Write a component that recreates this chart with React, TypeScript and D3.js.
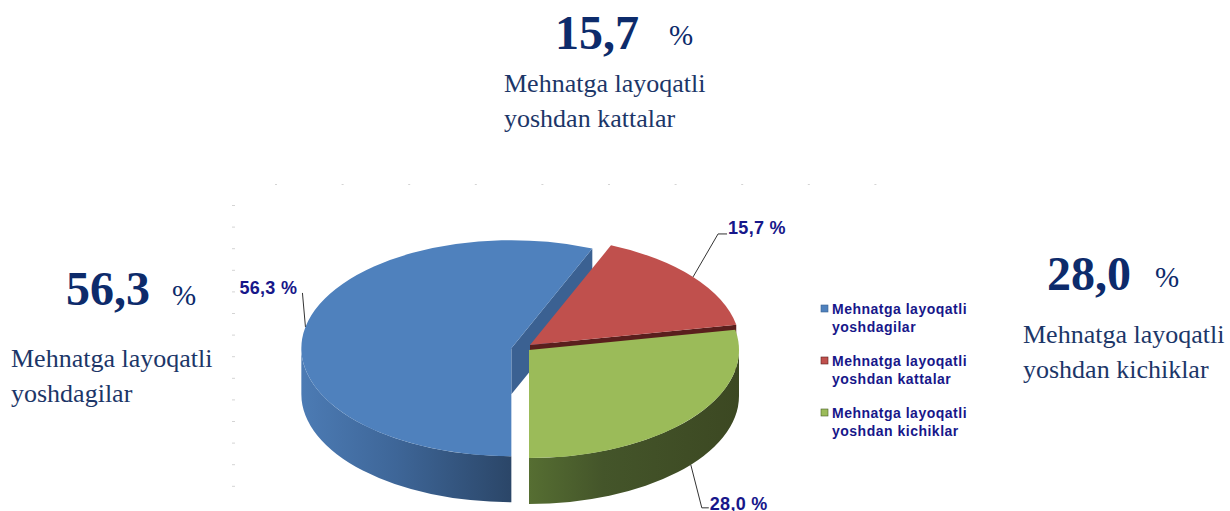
import * as d3 from "d3";

const categories = [
  "Mehnatga layoqatli yoshdagilar",
  "Mehnatga layoqatli yoshdan kattalar",
  "Mehnatga layoqatli yoshdan kichiklar",
];
const values = [56.3, 15.7, 28.0];
const sliceLabels = ["56,3 %", "15,7 %", "28,0 %"];
const bigNumbers = ["56,3", "15,7", "28,0"];
const legendLines = [
  ["Mehnatga layoqatli", "yoshdagilar"],
  ["Mehnatga layoqatli", "yoshdan kattalar"],
  ["Mehnatga layoqatli", "yoshdan kichiklar"],
];

const W = 1230;
const H = 511;
const topColors = ["#4f81bd", "#c0504d", "#9bbb59"];
const cutColors = ["#3b6192", "#5a1f1d", "#4a5e2a"];
const navy = "#0d2b6b";
const labelColor = "#17178a";

// pie geometry
const cx0 = 529;
const cy0 = 350;
const rx = 210;
const ry = 108;
const depth = 46;

type Pt = [number, number];

const pt = (c: Pt, a: number): Pt => [c[0] + rx * Math.sin(a), c[1] - ry * Math.cos(a)];
const down = (p: Pt): Pt => [p[0], p[1] + depth];
const f = (p: Pt) => `${p[0].toFixed(2)},${p[1].toFixed(2)}`;

// big annotation blocks placed around the pie (order follows categories)
const annot = [
  { x: 66, y: 305, px: 172, py: 305, tx: 11, ty: 367 },
  { x: 555, y: 49, px: 669, py: 45, tx: 504, ty: 92 },
  { x: 1047, y: 290, px: 1155, py: 287, tx: 1023, ty: 343 },
];

const App = () => {
  const pie = d3
    .pie<number>()
    .sort(null)
    .startAngle(Math.PI)
    .endAngle(3 * Math.PI);
  const arcs = pie(values);

  // slice offsets: blue pulled out radially, red nudged up
  const centers: Pt[] = arcs.map((a, i) => {
    const mid = (a.startAngle + a.endAngle) / 2;
    if (i === 0) {
      const e = 18;
      return [cx0 + e * Math.sin(mid), cy0 - e * Math.cos(mid) * (ry / rx)];
    }
    if (i === 1) return [cx0 + 1, cy0 - 5];
    return [cx0, cy0];
  });

  const slices = arcs.map((a, i) => {
    const c = centers[i];
    const a0 = a.startAngle;
    const a1 = a.endAngle;
    const p0 = pt(c, a0);
    const p1 = pt(c, a1);
    const large = a1 - a0 > Math.PI ? 1 : 0;
    const top = `M${f(c)}L${f(p0)}A${rx},${ry} 0 ${large} 1 ${f(p1)}Z`;

    // outer wall: parts of the rim in the front half
    const walls: string[] = [];
    [
      [Math.PI / 2, (3 * Math.PI) / 2],
      [(5 * Math.PI) / 2, (7 * Math.PI) / 2],
    ].forEach(([s, e]) => {
      const b0 = Math.max(a0, s);
      const b1 = Math.min(a1, e);
      if (b1 > b0) {
        const q0 = pt(c, b0);
        const q1 = pt(c, b1);
        walls.push(
          `M${f(q0)}A${rx},${ry} 0 0 1 ${f(q1)}L${f(down(q1))}A${rx},${ry} 0 0 0 ${f(down(q0))}Z`
        );
      }
    });

    // cut faces facing the viewer
    const cuts: string[] = [];
    if (Math.sin(a0) < -1e-6)
      cuts.push(`M${f(c)}L${f(p0)}L${f(down(p0))}L${f(down(c))}Z`);
    if (Math.sin(a1) > 1e-6)
      cuts.push(`M${f(c)}L${f(p1)}L${f(down(p1))}L${f(down(c))}Z`);

    const mid = (a0 + a1) / 2;
    const rim = pt(c, mid);
    const anchor: Pt = Math.cos(mid) < 0 ? down(rim) : rim;
    return { top, walls, cuts, anchor, c };
  });

  // leader lines and label placement
  const leaders = [
    {
      d: `M${f(slices[0].anchor)}L${f([slices[0].anchor[0] - 3, slices[0].anchor[1] - 34])}`,
      lx: slices[0].anchor[0] - 66,
      ly: slices[0].anchor[1] - 38,
    },
    {
      d: `M${f(slices[1].anchor)}L${f([slices[1].anchor[0] + 25, slices[1].anchor[1] - 43])}l9,0`,
      lx: slices[1].anchor[0] + 35,
      ly: slices[1].anchor[1] - 48,
    },
    {
      d: `M${f(slices[2].anchor)}L${f([slices[2].anchor[0] + 11, slices[2].anchor[1] + 43])}l7,0`,
      lx: slices[2].anchor[0] + 19,
      ly: slices[2].anchor[1] + 40,
    },
  ];

  const rowDots = d3.range(10).map((i) => 276 + i * 66.6);
  const colDots = d3.range(14).map((i) => 205 + i * 21.6);

  return (
    <svg
      width={W}
      height={H}
      style={{ position: "absolute", left: 0, top: 0, background: "#fff" }}
    >
      <defs>
        <linearGradient
          id="wall0"
          gradientUnits="userSpaceOnUse"
          x1={centers[0][0] - rx}
          x2={centers[0][0]}
          y1={0}
          y2={0}
        >
          <stop offset="0" stopColor="#4c7bb4" />
          <stop offset="0.45" stopColor="#3e6698" />
          <stop offset="1" stopColor="#2b4668" />
        </linearGradient>
        <linearGradient
          id="wall2"
          gradientUnits="userSpaceOnUse"
          x1={centers[2][0]}
          x2={centers[2][0] + rx}
          y1={0}
          y2={0}
        >
          <stop offset="0" stopColor="#566e32" />
          <stop offset="0.35" stopColor="#44552a" />
          <stop offset="1" stopColor="#3c4822" />
        </linearGradient>
      </defs>

      {/* faint plot-area ticks */}
      <g fill="#d4d4d4">
        {rowDots.map((x, i) => (
          <rect key={"r" + i} x={x - 1} y={184} width={2} height={1} />
        ))}
        {colDots.map((y, i) => (
          <rect key={"c" + i} x={232} y={y} width={3} height={1} />
        ))}
      </g>

      {/* 3D slices */}
      {slices.map((s, i) => (
        <g key={i}>
          {s.cuts.map((d, j) => (
            <path key={"cut" + j} d={d} fill={cutColors[i]} />
          ))}
          {s.walls.map((d, j) => (
            <path key={"w" + j} d={d} fill={`url(#wall${i})`} />
          ))}
          <path d={s.top} fill={topColors[i]} />
        </g>
      ))}

      {/* leader lines and data labels */}
      {leaders.map((l, i) => (
        <g key={i}>
          <path d={l.d} fill="none" stroke="#333" strokeWidth={1} />
          <text
            x={l.lx}
            y={l.ly}
            fontFamily="Liberation Sans, Arial, sans-serif"
            fontWeight="bold"
            fontSize={18}
            letterSpacing={0.3}
            fill={labelColor}
            dominantBaseline="middle"
          >
            {sliceLabels[i]}
          </text>
        </g>
      ))}

      {/* legend */}
      {categories.map((cat, i) => {
        const y = 309 + i * 52;
        return (
          <g key={cat}>
            <rect
              x={821}
              y={y - 4}
              width={7}
              height={7}
              fill={topColors[i]}
              stroke={cutColors[i]}
              strokeWidth={0.6}
            />
            {legendLines[i].map((line, j) => (
              <text
                key={j}
                x={832}
                y={y + 5 + j * 18}
                fontFamily="Liberation Sans, Arial, sans-serif"
                fontWeight="bold"
                fontSize={14}
                letterSpacing={0.5}
                fill={labelColor}
              >
                {line}
              </text>
            ))}
          </g>
        );
      })}

      {/* big annotations */}
      {annot.map((a, i) => (
        <g key={i} fontFamily="Liberation Serif, Times New Roman, serif" fill={navy}>
          <text x={a.x} y={a.y} fontSize={48} fontWeight="bold">
            {bigNumbers[i]}
          </text>
          <text x={a.px} y={a.py} fontSize={29}>
            %
          </text>
          {legendLines[i].map((line, j) => (
            <text key={j} x={a.tx} y={a.ty + j * 35} fontSize={26} fill="#1c3668">
              {line}
            </text>
          ))}
        </g>
      ))}
    </svg>
  );
};

export default App;
